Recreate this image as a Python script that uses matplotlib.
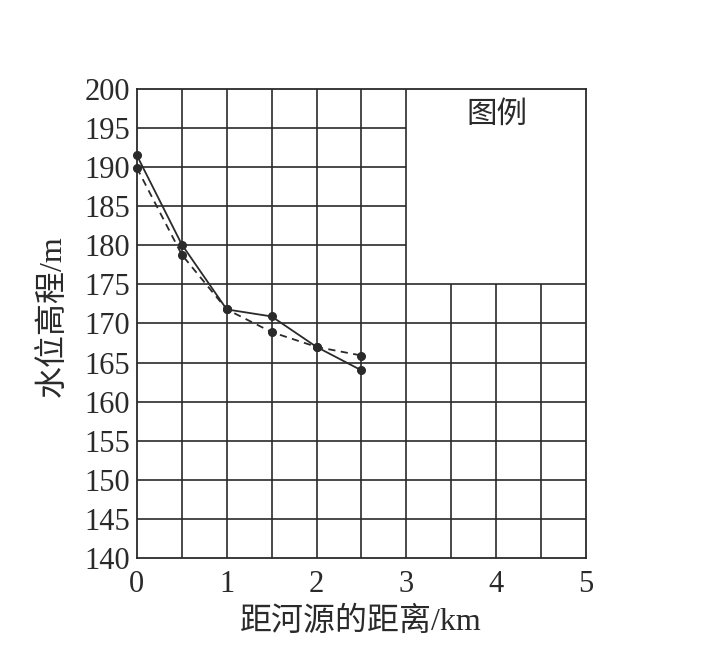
import matplotlib
matplotlib.use("Agg")
import matplotlib.pyplot as plt
import numpy as np

# Data
distance_km = [0, 0.5, 1, 1.5, 2, 2.5]
level_solid = [191.5, 180.1, 171.8, 170.9, 167.0, 164.0]
level_dashed = [189.9, 178.8, 171.8, 168.9, 167.0, 165.9]

x_ticks = [0, 1, 2, 3, 4, 5]
y_ticks = list(range(140, 201, 5))
x_grid = [0.5, 1, 1.5, 2, 2.5, 3, 3.5, 4, 4.5]
y_grid = list(range(145, 200, 5))
legend_box_x = [3, 5]
legend_box_y = [175, 200]
legend_title = "图例"
xlabel = "距河源的距离/km"
ylabel = "水位高程/m"

ink = "#2a2a2a"
serif = "Liberation Serif"
cjk = ["Liberation Serif", "Noto Sans CJK SC"]

fig = plt.figure(figsize=(7.13, 6.51), dpi=100)
ax = fig.add_axes([0.192, 0.1429, 0.630, 0.7204])
ax.set_xlim(0, 5)
ax.set_ylim(140, 200)

# grid with blank legend region
for gx in x_grid:
    top = legend_box_y[0] if gx > legend_box_x[0] else 200
    ax.vlines(gx, 140, top, color=ink, lw=1.2, zorder=1)
for gy in y_grid:
    right = legend_box_x[0] if gy > legend_box_y[0] else 5
    ax.hlines(gy, 0, right, color=ink, lw=1.2, zorder=1)

for s in ax.spines.values():
    s.set_color(ink)
    s.set_linewidth(1.3)

ax.plot(distance_km, level_solid, color=ink, lw=1.3, marker="o", ms=5.5,
        clip_on=False, zorder=3)
ax.plot(distance_km, level_dashed, color=ink, lw=1.3, ls=(0, (4, 3)), marker="o",
        ms=5.5, clip_on=False, zorder=3)

ax.text(4.01, 196.8, legend_title, ha="center", va="center", fontsize=22,
        family=["Noto Sans CJK SC"], color=ink)

ax.set_xticks(x_ticks)
ax.set_yticks(y_ticks)
ax.set_xticklabels([str(v) for v in x_ticks], family=serif, fontsize=22, color=ink)
ax.set_yticklabels([str(v) for v in y_ticks], family=serif, fontsize=22, color=ink)
ax.tick_params(axis="both", length=0)
ax.tick_params(axis="x", pad=9)
ax.tick_params(axis="y", pad=5)

ax.set_xlabel(xlabel, family=cjk, fontsize=23, color=ink)
ax.set_ylabel(ylabel, family=cjk, fontsize=23, color=ink)
ax.xaxis.set_label_coords(0.499, -0.1045)
ax.yaxis.set_label_coords(-0.154, 0.516)

fig.savefig("out.png", dpi=100, facecolor="white")
